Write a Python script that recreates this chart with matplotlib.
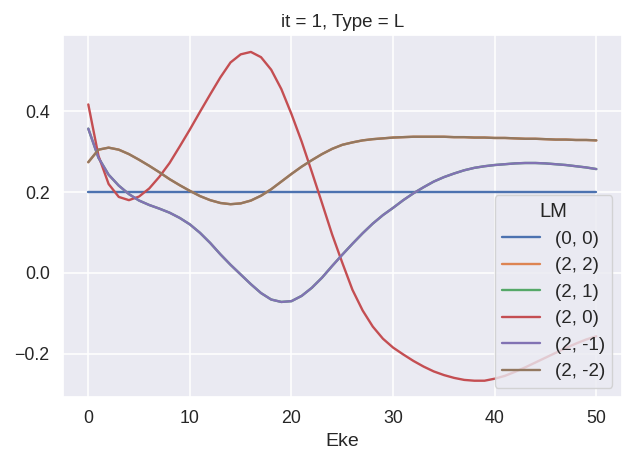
import matplotlib
matplotlib.use("Agg")
from matplotlib import pyplot as plt
import numpy as np
import seaborn as sns

sns.set_theme(font_scale=1.13)
plt.rcParams['font.family'] = ['Liberation Sans', 'DejaVu Sans']
plt.rcParams['lines.linewidth'] = 1.7
plt.rcParams['grid.linewidth'] = 1.1

eke = np.arange(0, 51)

lm_labels = ["(0, 0)", "(2, 2)", "(2, 1)", "(2, 0)", "(2, -1)", "(2, -2)"]

lm_0_0 = [0.2] * 51

lm_2_0 = [0.417, 0.29, 0.22, 0.188, 0.180, 0.189, 0.209, 0.238, 0.272, 0.313,
          0.355, 0.399, 0.442, 0.484, 0.521, 0.541, 0.547, 0.534, 0.503, 0.455,
          0.393, 0.325, 0.25, 0.173, 0.095, 0.025, -0.042, -0.093, -0.133, -0.163,
          -0.185, -0.202, -0.218, -0.232, -0.244, -0.253, -0.26, -0.265, -0.267, -0.267,
          -0.262, -0.255, -0.245, -0.234, -0.222, -0.21, -0.198, -0.186, -0.175, -0.165,
          -0.157]

lm_2_m1 = [0.357, 0.285, 0.243, 0.216, 0.195, 0.179, 0.168, 0.159, 0.149, 0.136,
           0.12, 0.099, 0.074, 0.046, 0.02, -0.004, -0.028, -0.05, -0.066, -0.072,
           -0.07, -0.057, -0.037, -0.012, 0.017, 0.045, 0.072, 0.098, 0.122, 0.143,
           0.161, 0.18, 0.197, 0.212, 0.226, 0.237, 0.246, 0.254, 0.26, 0.264,
           0.267, 0.269, 0.271, 0.272, 0.272, 0.271, 0.269, 0.267, 0.264, 0.261,
           0.257]

lm_2_m2 = [0.274, 0.305, 0.31, 0.305, 0.294, 0.28, 0.265, 0.249, 0.232, 0.217,
           0.203, 0.19, 0.18, 0.173, 0.17, 0.172, 0.179, 0.191, 0.207, 0.226,
           0.245, 0.263, 0.279, 0.294, 0.307, 0.317, 0.323, 0.328, 0.331, 0.333,
           0.335, 0.336, 0.337, 0.337, 0.337, 0.337, 0.336, 0.336, 0.335, 0.335,
           0.334, 0.334, 0.333, 0.332, 0.332, 0.331, 0.33, 0.33, 0.329, 0.329,
           0.328]

# (2, 2) and (2, 1) coincide with (2, -2) and (2, -1)
lm_2_2 = lm_2_m2
lm_2_1 = lm_2_m1

series = [lm_0_0, lm_2_2, lm_2_1, lm_2_0, lm_2_m1, lm_2_m2]

fig = plt.figure(figsize=(6.34, 4.7), dpi=100)
ax = fig.add_axes([0.0992, 0.155, 0.8814, 0.7695])

for vals, lab in zip(series, lm_labels):
    ax.plot(eke, vals, label=lab)

ax.set_yticks([-0.2, 0.0, 0.2, 0.4])
ax.tick_params(labelsize=12.8)
ax.set_xlabel("Eke", fontsize=14)
ax.set_title("it = 1, Type = L", fontsize=13.5)
ax.legend(title="LM", loc="lower right", fontsize=13.5, title_fontsize=14.5)

fig.savefig("out.png", dpi=100)
